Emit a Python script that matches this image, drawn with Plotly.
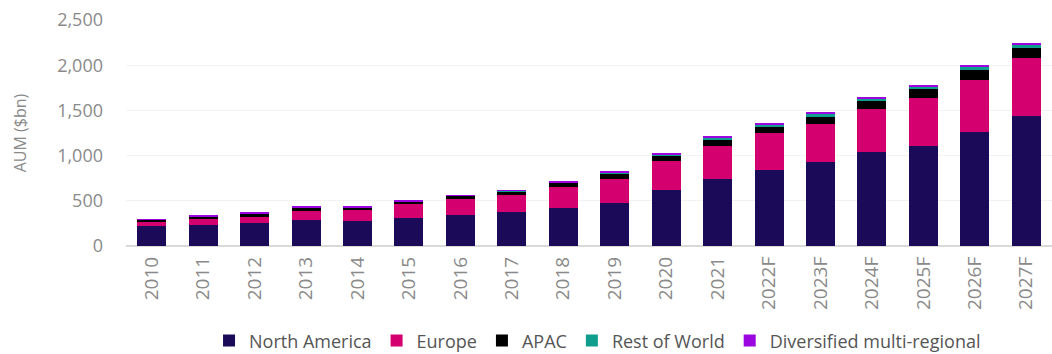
import plotly.graph_objects as go

years = ["2010", "2011", "2012", "2013", "2014", "2015", "2016", "2017", "2018",
         "2019", "2020", "2021", "2022F", "2023F", "2024F", "2025F", "2026F", "2027F"]
north_america = [220, 237, 258, 283, 275, 310, 346, 378, 422, 480, 624, 738, 846, 925, 1035, 1110, 1258, 1433]
europe = [55, 59, 67, 103, 127, 155, 178, 189, 233, 262, 317, 370, 400, 430, 484, 529, 580, 648]
apac = [18, 30, 35, 40, 24, 28, 32, 38, 45, 58, 60, 72, 81, 81, 89, 97, 108, 112]
rest_of_world = [2, 3, 3, 3, 3, 3, 3, 4, 6, 12, 14, 16, 18, 22, 22, 27, 29, 30]
diversified = [3, 4, 4, 4, 4, 4, 4, 5, 10, 13, 16, 18, 20, 26, 22, 22, 30, 28]

series = [
    ("North America", north_america, "#1b0a58"),
    ("Europe", europe, "#d4006f"),
    ("APAC", apac, "#000000"),
    ("Rest of World", rest_of_world, "#0f9e8e"),
    ("Diversified multi-regional", diversified, "#9a05e0"),
]

fig = go.Figure()
for name, vals, color in series:
    fig.add_trace(go.Bar(x=years, y=vals, name=name, marker_color=color,
                         marker_line_width=0))

fig.update_layout(
    barmode="stack",
    bargap=0.435,
    width=1052, height=354,
    margin=dict(l=126, r=0, t=20, b=108),
    plot_bgcolor="white", paper_bgcolor="white",
    font=dict(family="Open Sans, sans-serif", color="#8a8a8a", size=17),
    legend=dict(orientation="h", xref="container", yref="container",
                x=0.568, y=0.037, xanchor="center", yanchor="middle",
                font=dict(family="Open Sans, sans-serif", size=18, color="#555555"),
                traceorder="normal", itemwidth=30),
    showlegend=True,
)
fig.update_yaxes(range=[0, 2500], dtick=500, tickformat=",", showgrid=True,
                 gridcolor="#f2f2f2", zeroline=True, zerolinecolor="#d9d9d9",
                 zerolinewidth=1.5, ticks="", ticklabelstandoff=22,
                 tickfont=dict(size=18, color="#8a8a8a"),
                 title=dict(text="AUM ($bn)", font=dict(size=16, color="#8a8a8a"), standoff=26))
fig.update_xaxes(tickangle=-90, tickfont=dict(size=19, color="#8a8a8a"), ticks="",
                 showline=False, ticklabelstandoff=6)

fig.write_html("out.html")
